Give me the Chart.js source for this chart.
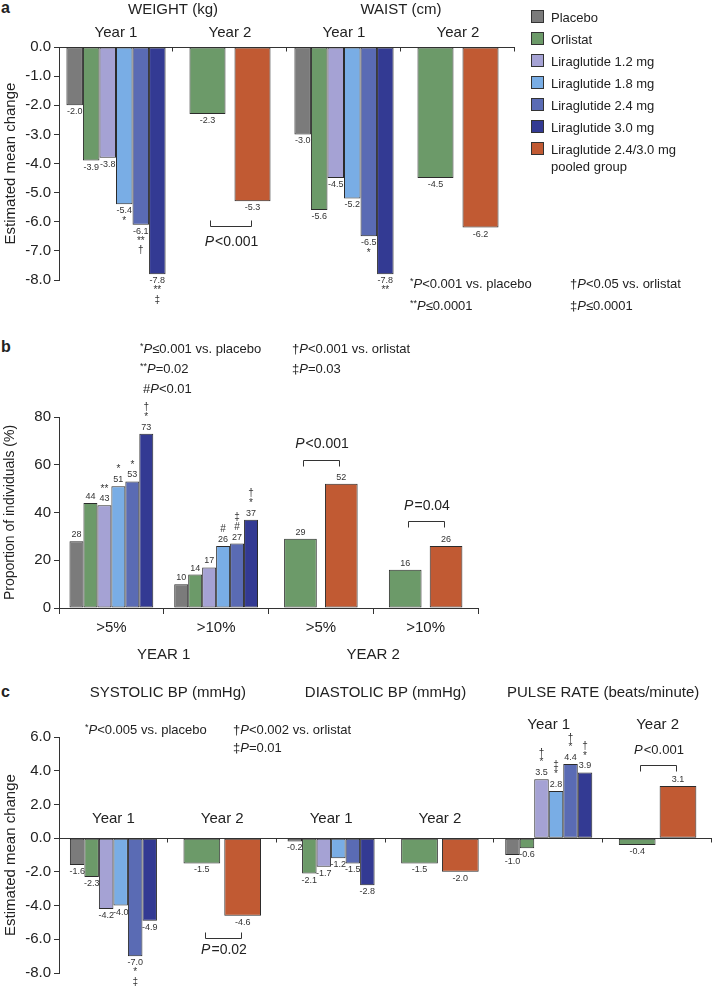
<!DOCTYPE html>
<html>
<head>
<meta charset="utf-8">
<script src="https://cdn.jsdelivr.net/npm/chart.js@4.4.0/dist/chart.umd.min.js"></script>
<style>
  body { margin: 0; background: #fff; font-family: 'Liberation Sans', Arial, Helvetica, sans-serif; color: #222; }
  #page { position: relative; width: 714px; height: 987px; overflow: hidden; }
  .panel { position: absolute; left: 0; width: 714px; }
  .letter { position: absolute; left: 1px; font-weight: bold; font-size: 16px; line-height: 16px; }
  .note { position: absolute; font-size: 13px; line-height: 16px; white-space: nowrap; }
  .note sup { font-size: 9px; vertical-align: 4px; line-height: 0; }
  #legend { position: absolute; left: 531px; top: 10px; font-size: 13px; }
  #legend .row { position: relative; height: 22px; line-height: 14px; }
  #legend .sw { position: absolute; left: 0; top: 0; width: 11px; height: 11px; border: 1px solid #333; }
  #legend .tx { position: absolute; left: 20px; top: -1px; white-space: nowrap; line-height: 17px; }
</style>
</head>
<body>
<div id="page">
  <div class="letter" style="top:0">a</div>
  <div class="letter" style="top:339px">b</div>
  <div class="letter" style="top:684px">c</div>

  <div class="panel" style="top:0;height:335px"><canvas id="chartA"></canvas></div>
  <div class="panel" style="top:335px;height:330px"><canvas id="chartB"></canvas></div>
  <div class="panel" style="top:665px;height:322px"><canvas id="chartC"></canvas></div>

  <div id="legend"></div>

  <div class="note" style="left:410px;top:276px"><sup>*</sup><i>P</i>&lt;0.001 vs. placebo</div>
  <div class="note" style="left:410px;top:298px"><sup>**</sup><i>P</i>≤0.0001</div>
  <div class="note" style="left:570px;top:276px">†<i>P</i>&lt;0.05 vs. orlistat</div>
  <div class="note" style="left:570px;top:298px">‡<i>P</i>≤0.0001</div>

  <div class="note" style="left:140px;top:341px"><sup>*</sup><i>P</i>≤0.001 vs. placebo</div>
  <div class="note" style="left:140px;top:361px"><sup>**</sup><i>P</i>=0.02</div>
  <div class="note" style="left:143px;top:381px">#<i>P</i>&lt;0.01</div>
  <div class="note" style="left:292px;top:341px">†<i>P</i>&lt;0.001 vs. orlistat</div>
  <div class="note" style="left:292px;top:361px">‡<i>P</i>=0.03</div>

  <div class="note" style="left:85px;top:722px"><sup>*</sup><i>P</i>&lt;0.005 vs. placebo</div>
  <div class="note" style="left:233px;top:722px">†<i>P</i>&lt;0.002 vs. orlistat</div>
  <div class="note" style="left:233px;top:740px">‡<i>P</i>=0.01</div>
</div>

<script>
// ---- series ----
const seriesNames = ['Placebo', 'Orlistat', 'Liraglutide 1.2 mg', 'Liraglutide 1.8 mg',
                     'Liraglutide 2.4 mg', 'Liraglutide 3.0 mg', 'Liraglutide 2.4/3.0 mg\npooled group'];
const seriesColors = ['#7b7b7b', '#6c9a69', '#a5a2d4', '#79ade5', '#5a6bb4', '#333a93', '#c15a33'];

// ---- panel a: weight / waist ----
const aCategories = ['Year 1', 'Year 2', 'Year 1', 'Year 2'];
const aTitles = ['WEIGHT (kg)', 'WAIST (cm)'];
const aPlacebo   = [-2.0, null, -3.0, null];
const aOrlistat  = [-3.9, null, -5.6, null];
const aLira12    = [-3.8, null, -4.5, null];
const aLira18    = [-5.4, null, -5.2, null];
const aLira24    = [-6.1, null, -6.5, null];
const aLira30    = [-7.8, null, -7.8, null];
const aOrlistatY2 = [null, -2.3, null, -4.5];
const aPooled    = [null, -5.3, null, -6.2];
const aMarksLira18 = ['*', '', '', ''];
const aMarksLira24 = ['**\n†', '', '*', ''];
const aMarksLira30 = ['**\n‡', '', '**', ''];

// ---- panel b: responders ----
const bCategories = ['>5%', '>10%', '>5%', '>10%'];
const bPeriods = ['YEAR 1', 'YEAR 2'];
const bPlacebo   = [28, 10, null, null];
const bOrlistat  = [44, 14, null, null];
const bLira12    = [43, 17, null, null];
const bLira18    = [51, 26, null, null];
const bLira24    = [53, 27, null, null];
const bLira30    = [73, 37, null, null];
const bOrlistatY2 = [null, null, 29, 16];
const bPooled    = [null, null, 52, 26];
const bMarksLira12 = ['**', '', '', ''];
const bMarksLira18 = ['*', '#', '', ''];
const bMarksLira24 = ['*', '#\n‡', '', ''];
const bMarksLira30 = ['*\n†', '*\n†', '', ''];

// ---- panel c: blood pressure / pulse ----
const cCategories = ['Year 1', 'Year 2', 'Year 1', 'Year 2', 'Year 1', 'Year 2'];
const cTitles = ['SYSTOLIC BP (mmHg)', 'DIASTOLIC BP (mmHg)', 'PULSE RATE (beats/minute)'];
const cPlacebo   = [-1.6, null, -0.2, null, -1.0, null];
const cOrlistat  = [-2.3, null, -2.1, null, -0.6, null];
const cLira12    = [-4.2, null, -1.7, null, 3.5, null];
const cLira18    = [-4.0, null, -1.2, null, 2.8, null];
const cLira24    = [-7.0, null, -1.5, null, 4.4, null];
const cLira30    = [-4.9, null, -2.8, null, 3.9, null];
const cOrlistatY2 = [null, -1.5, null, -1.5, null, -0.4];
const cPooled    = [null, -4.6, null, -2.0, null, 3.1];
const cMarksLira12 = ['', '', '', '', '*\n†', ''];
const cMarksLira18 = ['', '', '', '', '*\n‡', ''];
const cMarksLira24 = ['*\n‡', '', '', '', '*\n†', ''];
const cMarksLira30 = ['', '', '', '', '*\n†', ''];

const FONT = "'Liberation Sans', Arial, Helvetica, sans-serif";
Chart.defaults.font.family = FONT;
Chart.defaults.color = '#222';
Chart.defaults.animation = false;

// legend (html, the pooled group wraps on two lines)
const legendEl = document.getElementById('legend');
seriesNames.forEach((name, i) => {
    const row = document.createElement('div');
    row.className = 'row';
    row.innerHTML = '<span class="sw" style="background:' + seriesColors[i] + '"></span>' +
                    '<span class="tx">' + name.replace('\n', '<br>') + '</span>';
    legendEl.appendChild(row);
});

// year-1 bars touch each other, the two year-2 bars are wider with a gap
function buildDatasets(values, marks, y1cp, y2cp, y2bp) {
    const colorIdx = [0, 1, 2, 3, 4, 5, 1, 6];
    return values.map((data, i) => ({
        label: i === 6 ? 'Orlistat (year 2)' : seriesNames[colorIdx[i]],
        data: data,
        marks: marks[i] || null,
        backgroundColor: seriesColors[colorIdx[i]],
        borderColor: '#2b2b2b',
        borderWidth: 1,
        borderSkipped: false,
        skipNull: true,
        categoryPercentage: i < 6 ? y1cp : y2cp,
        barPercentage: i < 6 ? 1.0 : y2bp
    }));
}

function yAxis(min, max, step, title, decimals, zeroLine, titleSize) {
    return {
        min: min, max: max,
        ticks: { stepSize: step, font: { size: 15 }, color: '#222', padding: 3,
                 callback: v => Number(v).toFixed(decimals) },
        border: { display: true, color: '#333', width: 1 },
        grid: {
            drawOnChartArea: zeroLine, tickLength: 5, tickColor: '#333',
            color: c => (c.tick && c.tick.value === 0) ? '#333' : 'rgba(0,0,0,0)'
        },
        title: { display: true, text: title, font: { size: titleSize }, color: '#222', padding: 2 },
        afterFit: s => { s.width = 59; }
    };
}

// text with an italic P in front
function drawP(ctx, text, cx, cy, size) {
    const rest = text.slice(1);
    ctx.font = 'italic ' + size + 'px ' + FONT;
    const wP = ctx.measureText('P').width;
    ctx.font = size + 'px ' + FONT;
    const wR = ctx.measureText(rest).width;
    let x = cx - (wP + wR) / 2;
    ctx.textAlign = 'left';
    ctx.textBaseline = 'middle';
    ctx.font = 'italic ' + size + 'px ' + FONT;
    ctx.fillText('P', x, cy);
    ctx.font = size + 'px ' + FONT;
    ctx.fillText(rest, x + wP + 1, cy);
}

function extrasPlugin(cfg) {
    return {
        id: 'extras',
        afterDatasetsDraw(chart) {
            const ctx = chart.ctx;
            const xs = chart.scales.x, ys = chart.scales.y;
            const area = chart.chartArea;
            const y0 = Math.round(ys.getPixelForValue(0)) + 0.5;
            const n = chart.data.labels.length;
            ctx.save();
            ctx.strokeStyle = '#333';
            ctx.fillStyle = '#222';
            ctx.lineWidth = 1;

            // little ticks hanging from the zero line at group boundaries
            if (cfg.zeroTicks) {
                for (let i = 0; i < n; i++) {
                    const bx = Math.round(xs.getPixelForValue(i + 0.5)) - 0.5;
                    ctx.beginPath();
                    ctx.moveTo(bx, y0);
                    ctx.lineTo(bx, y0 + 4);
                    ctx.stroke();
                }
            }

            // value labels + significance marks
            ctx.fillStyle = '#333';
            ctx.textAlign = 'center';
            chart.data.datasets.forEach((ds, di) => {
                const meta = chart.getDatasetMeta(di);
                meta.data.forEach((bar, i) => {
                    const v = ds.data[i];
                    if (v === null || v === undefined) return;
                    const neg = v < 0;
                    let y = neg ? bar.y + 2 : bar.y - 2;
                    ctx.textBaseline = neg ? 'top' : 'bottom';
                    ctx.font = '9px ' + FONT;
                    ctx.fillText(cfg.decimals ? v.toFixed(cfg.decimals) : String(v), bar.x, y);
                    const m = ds.marks && ds.marks[i] ? ds.marks[i].split('\n') : [];
                    ctx.font = '10px ' + FONT;
                    m.forEach(s => {
                        y += neg ? 9.5 : -9.5;
                        ctx.fillText(s, bar.x, y);
                    });
                });
            });

            // group labels (Year 1 / Year 2)
            ctx.fillStyle = '#222';
            if (cfg.groupLabels) {
                ctx.font = '15px ' + FONT;
                ctx.textAlign = 'center';
                ctx.textBaseline = 'middle';
                cfg.groupLabels.forEach((t, i) => {
                    ctx.fillText(t, xs.getPixelForValue(i), cfg.groupY(i, y0, area));
                });
            }

            // titles spanning two groups
            (cfg.titles || []).forEach((t, k) => {
                ctx.font = '15px ' + FONT;
                ctx.textAlign = 'center';
                ctx.textBaseline = 'middle';
                ctx.fillText(t, xs.getPixelForValue(k * 2 + 0.5), cfg.titleY(area));
            });

            // brackets between the two year-2 bars
            (cfg.brackets || []).forEach(b => {
                const m1 = chart.getDatasetMeta(6).data[b.cat];
                const m2 = chart.getDatasetMeta(7).data[b.cat];
                const x1 = Math.round(m1.x + 3) + 0.5, x2 = Math.round(m2.x - 2) + 0.5;
                const yb = Math.round(ys.getPixelForValue(b.y)) + 0.5;
                const d = b.open === 'up' ? -6 : 6;
                ctx.beginPath();
                ctx.moveTo(x1, yb + d);
                ctx.lineTo(x1, yb);
                ctx.lineTo(x2, yb);
                ctx.lineTo(x2, yb + d);
                ctx.stroke();
                drawP(ctx, b.text, (x1 + x2) / 2, yb + b.dy, b.size || 14);
            });
            ctx.restore();
        }
    };
}

function barOptions(padding, yCfg, xCfg) {
    return {
        responsive: true,
        maintainAspectRatio: false,
        events: [],
        layout: { padding: padding },
        plugins: { legend: { display: false }, tooltip: { enabled: false } },
        scales: { x: xCfg, y: yCfg }
    };
}

// ---- panel a ----
new Chart(document.getElementById('chartA'), {
    type: 'bar',
    data: {
        labels: aCategories,
        datasets: buildDatasets(
            [aPlacebo, aOrlistat, aLira12, aLira18, aLira24, aLira30, aOrlistatY2, aPooled],
            [null, null, null, aMarksLira18, aMarksLira24, aMarksLira30],
            0.87, 0.79, 0.80)
    },
    options: barOptions({ top: 47, bottom: 55, left: 0, right: 199 },
        yAxis(-8, 0, 1, 'Estimated mean change', 1, true, 15),
        { display: false }),
    plugins: [extrasPlugin({
        decimals: 1, zeroTicks: true,
        groupLabels: aCategories,
        groupY: (i, y0) => y0 - 14.5,
        titles: aTitles,
        titleY: area => area.top - 37,
        brackets: [{ cat: 1, y: -6.13, open: 'up', dy: 16, text: 'P<0.001' }]
    })]
});

// ---- panel b ----
new Chart(document.getElementById('chartB'), {
    type: 'bar',
    data: {
        labels: bCategories,
        datasets: buildDatasets(
            [bPlacebo, bOrlistat, bLira12, bLira18, bLira24, bLira30, bOrlistatY2, bPooled],
            [null, null, bMarksLira12, bMarksLira18, bMarksLira24, bMarksLira30],
            0.80, 0.78, 0.80)
    },
    options: barOptions({ top: 82, bottom: 22, left: 0, right: 236 },
        yAxis(0, 80, 20, 'Proportion of individuals (%)', 0, false, 14),
        {
            ticks: { font: { size: 15 }, color: '#222', padding: 5 },
            border: { display: true, color: '#333', width: 1 },
            grid: { offset: true, drawOnChartArea: false, tickLength: 6, color: '#333' },
            afterFit: s => { s.height = 35; }
        }),
    plugins: [extrasPlugin({
        decimals: 0,
        titles: bPeriods,
        titleY: area => area.bottom + 47,
        brackets: [
            { cat: 2, y: 62, open: 'down', dy: -16, text: 'P<0.001' },
            { cat: 3, y: 36.4, open: 'down', dy: -15, text: 'P=0.04' }
        ]
    })]
});

// ---- panel c ----
new Chart(document.getElementById('chartC'), {
    type: 'bar',
    data: {
        labels: cCategories,
        datasets: buildDatasets(
            [cPlacebo, cOrlistat, cLira12, cLira18, cLira24, cLira30, cOrlistatY2, cPooled],
            [null, null, cMarksLira12, cMarksLira18, cMarksLira24, cMarksLira30],
            0.80, 0.75, 0.90)
    },
    options: barOptions({ top: 72, bottom: 14, left: 0, right: 2 },
        yAxis(-8, 6, 2, 'Estimated mean change', 1, true, 15),
        { display: false }),
    plugins: [extrasPlugin({
        decimals: 1, zeroTicks: true,
        groupLabels: cCategories,
        groupY: (i, y0, area) => i >= 4 ? area.top - 12 : y0 - 20,
        titles: cTitles,
        titleY: area => area.top - 44,
        brackets: [
            { cat: 1, y: -5.9, open: 'up', dy: 12, text: 'P=0.02' },
            { cat: 5, y: 4.35, open: 'down', dy: -15, text: 'P<0.001', size: 13 }
        ]
    })]
});
</script>
</body>
</html>
